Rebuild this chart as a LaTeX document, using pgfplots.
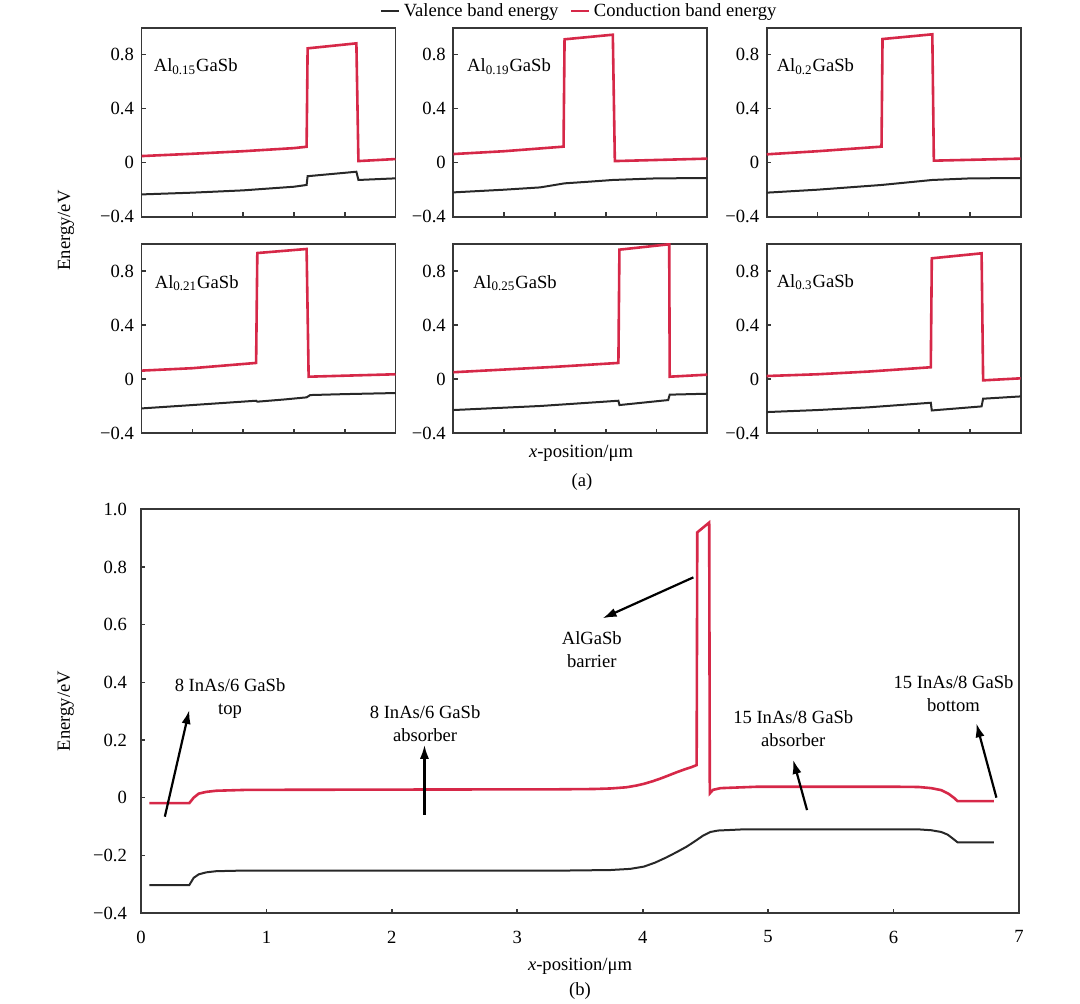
\documentclass[border=0pt]{standalone}
\usepackage{fontspec}
\setmainfont{Liberation Serif}
\usepackage{pgfplots}
\pgfplotsset{compat=1.18}
\usetikzlibrary{arrows.meta}
\definecolor{cb}{RGB}{214,40,72}
\definecolor{vb}{RGB}{40,40,40}
\definecolor{fr}{RGB}{55,55,55}
\newcommand\fs{\fontsize{9.3}{11.6}\selectfont}
\pgfplotsset{
  common/.style={scale only axis, anchor=south west, ymin=-0.4, ymax=1.0,
    tick pos=left, tick align=inside, major tick length=2.2pt,
    axis line style={fr, line width=0.9pt},
    every tick/.style={fr, line width=0.8pt},
    tick label style={font=\fs}},
  panel/.style={common, width=127pt, height=94.5pt, xmin=0, xmax=5,
    xtick={1,2,3,4}, xticklabels={},
    ytick={-0.4,0,0.4,0.8}, yticklabels={−0.4,0,0.4,0.8},
    yticklabel style={xshift=-0.5pt}},
  vbl/.style={vb, line width=1pt},
  cbl/.style={cb, line width=1.3pt},
}
\tikzset{lab/.style={anchor=base west, font=\fs, inner sep=0pt},
  arr/.style={line width=1.1pt, -{Latex[length=7pt,width=4.6pt]}}}
\begin{document}
\fs
\begin{tikzpicture}[font=\fs]
\path[use as bounding box] (0,0) rectangle (540pt,-502pt);

% ---------- row 1 ----------
\begin{axis}[panel, at={(70.75pt,-108.35pt)}]
\addplot[vbl] coordinates {(0,-0.235) (1,-0.222) (2,-0.205) (3,-0.178) (3.25,-0.165) (3.27,-0.10) (4.23,-0.067) (4.27,-0.128) (5,-0.116)};
\addplot[cbl] coordinates {(0,0.049) (1,0.066) (2,0.085) (3,0.108) (3.25,0.118) (3.27,0.847) (4.23,0.884) (4.27,0.012) (5,0.027)};
\node[lab] at (axis cs:0.235,0.674) {Al\textsubscript{0.15}GaSb};
\end{axis}

\begin{axis}[panel, at={(226.65pt,-108.35pt)},
  legend style={at={(0.5,1)}, anchor=center, yshift=8.35pt, draw=none, fill=none,
    legend columns=2, font=\fs, inner sep=0pt,
    /tikz/every even column/.append style={column sep=4pt}},
  legend image code/.code={\draw[#1,line width=0.8pt] (0pt,0pt) -- (9pt,0pt);}]
\addplot[vbl] coordinates {(0,-0.22) (1,-0.2) (1.71,-0.183) (2.19,-0.153) (2.7,-0.14) (3.14,-0.128) (4.01,-0.116) (5,-0.114)};
\addlegendentry{Valence band energy}
\addplot[cbl] coordinates {(0,0.064) (1,0.085) (2.17,0.119) (2.19,0.914) (3.14,0.948) (3.18,0.012) (5,0.03)};
\addlegendentry{Conduction band energy}
\node[lab] at (axis cs:0.265,0.674) {Al\textsubscript{0.19}GaSb};
\end{axis}

\begin{axis}[panel, at={(383.35pt,-108.35pt)}]
\addplot[vbl] coordinates {(0,-0.222) (1,-0.2) (2.26,-0.165) (2.8,-0.145) (3.26,-0.128) (4.02,-0.116) (5,-0.114)};
\addplot[cbl] coordinates {(0,0.062) (1,0.085) (2.26,0.119) (2.28,0.916) (3.26,0.951) (3.29,0.015) (5,0.03)};
\node[lab] at (axis cs:0.19,0.674) {Al\textsubscript{0.2}GaSb};
\end{axis}

% ---------- row 2 ----------
\begin{axis}[panel, at={(70.75pt,-216.5pt)}]
\addplot[vbl] coordinates {(0,-0.218) (1,-0.193) (2.256,-0.161) (2.28,-0.168) (2.8,-0.152) (3.25,-0.136) (3.32,-0.119) (4,-0.112) (5,-0.104)};
\addplot[cbl] coordinates {(0,0.062) (1,0.08) (2.256,0.119) (2.28,0.933) (3.25,0.963) (3.29,0.017) (5,0.035)};
\node[lab] at (axis cs:0.255,0.673) {Al\textsubscript{0.21}GaSb};
\end{axis}

\begin{axis}[panel, at={(226.65pt,-216.5pt)}]
\addplot[vbl] coordinates {(0,-0.23) (1.71,-0.2) (3.25,-0.161) (3.27,-0.193) (4.23,-0.156) (4.26,-0.116) (5,-0.109)};
\addplot[cbl] coordinates {(0,0.05) (1,0.07) (2,0.09) (3.25,0.119) (3.27,0.958) (4.25,0.998) (4.26,0.017) (5,0.032)};
\node[lab] at (axis cs:0.38,0.674) {Al\textsubscript{0.25}GaSb};
\end{axis}

\begin{axis}[panel, at={(383.35pt,-216.5pt)}]
\addplot[vbl] coordinates {(0,-0.245) (1,-0.23) (2,-0.21) (3.23,-0.176) (3.25,-0.233) (4.23,-0.203) (4.26,-0.146) (5,-0.129)};
\addplot[cbl] coordinates {(0,0.022) (1,0.035) (2,0.055) (3.23,0.087) (3.25,0.894) (4.23,0.931) (4.26,-0.01) (5,0.005)};
\node[lab] at (axis cs:0.19,0.68) {Al\textsubscript{0.3}GaSb};
\end{axis}

\node[rotate=90] at (33pt,-115.25pt) {Energy/eV};
\node at (290.5pt,-226.5pt) {\textit{x}-position/μm};
\node at (291pt,-240.8pt) {(a)};

% ---------- bottom ----------
\begin{axis}[common, width=439pt, height=201.85pt, at={(70.5pt,-456.5pt)},
  xmin=0, xmax=7, xtick={0,1,2,3,4,5,6,7}, xticklabels={0,1,2,3,4,5,6,7},
  ytick={-0.4,-0.2,0,0.2,0.4,0.6,0.8,1.0},
  yticklabels={−0.4,−0.2,0,0.2,0.4,0.6,0.8,1.0},
  xticklabel style={yshift=-5.6pt}, yticklabel style={xshift=-3.75pt}]
\addplot[vbl] coordinates {(0.066,-0.303) (0.385,-0.303) (0.42,-0.278) (0.46,-0.266) (0.52,-0.259) (0.6,-0.255) (0.8,-0.253) (3.34,-0.253) (3.74,-0.251) (3.9,-0.247) (4.01,-0.239) (4.1,-0.225) (4.19,-0.207) (4.27,-0.189) (4.35,-0.17) (4.42,-0.15) (4.48,-0.132) (4.54,-0.119) (4.6,-0.114) (4.8,-0.11) (6.2,-0.11) (6.3,-0.113) (6.38,-0.119) (6.43,-0.128) (6.47,-0.141) (6.51,-0.155) (6.80,-0.155)};
\addplot[cbl] coordinates {(0.066,-0.019) (0.385,-0.019) (0.42,0.0) (0.46,0.014) (0.52,0.02) (0.6,0.024) (0.84,0.027) (2,0.028) (3.34,0.029) (3.61,0.03) (3.75,0.032) (3.87,0.036) (3.95,0.042) (4.01,0.048) (4.08,0.057) (4.14,0.066) (4.2,0.076) (4.27,0.088) (4.34,0.099) (4.39,0.106) (4.43,0.113) (4.435,0.92) (4.53,0.954) (4.535,0.015) (4.56,0.027) (4.62,0.033) (4.92,0.038) (5.98,0.038) (6.2,0.037) (6.3,0.033) (6.38,0.026) (6.44,0.013) (6.48,0.0) (6.51,-0.012) (6.80,-0.012)};
\node[align=center, font=\fs] at (axis cs:0.71,0.344) {8 InAs/6 GaSb\\top};
\node[align=center, font=\fs] at (axis cs:2.265,0.2575) {8 InAs/6 GaSb\\absorber};
\node[align=center, font=\fs] at (axis cs:3.594,0.512) {AlGaSb\\barrier};
\node[align=center, font=\fs] at (axis cs:5.20,0.24) {15 InAs/8 GaSb\\absorber};
\node[align=center, font=\fs] at (axis cs:6.478,0.36) {15 InAs/8 GaSb\\bottom};
\draw[arr] (axis cs:0.19,-0.066) -- (axis cs:0.385,0.304);
\draw[arr] (axis cs:2.26,-0.06) -- (axis cs:2.26,0.183);
\draw[arr] (axis cs:4.404,0.764) -- (axis cs:3.68,0.622);
\draw[arr] (axis cs:5.31,-0.043) -- (axis cs:5.20,0.131);
\draw[arr] (axis cs:6.82,0.0) -- (axis cs:6.66,0.258);
\end{axis}

\node[rotate=90] at (32.9pt,-355.5pt) {Energy/eV};
\node at (290pt,-483pt) {\textit{x}-position/μm};
\node at (290pt,-495.3pt) {(b)};
\end{tikzpicture}
\end{document}
